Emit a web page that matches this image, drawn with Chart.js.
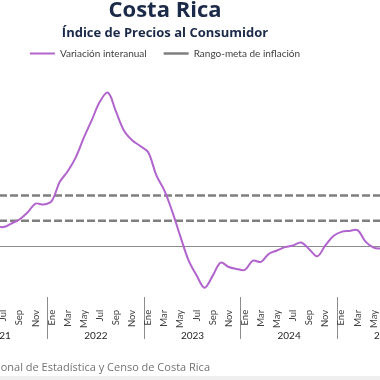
<!DOCTYPE html>
<html lang="es">
<head>
<meta charset="utf-8">
<title>Costa Rica - Índice de Precios al Consumidor</title>
<script src="https://cdn.jsdelivr.net/npm/chart.js@4.4.1/dist/chart.umd.min.js"></script>
<style>
  body { margin: 0; width: 380px; height: 380px; overflow: hidden; position: relative; background: #fff; font-family: Lato, sans-serif; }
  /* the chart is wider than the window: it is shown cropped on both sides */
  #wrap { position: absolute; left: -104px; top: 0; }
  #fuente { position: absolute; top: 360px; right: 170px; white-space: nowrap; font-family: 'Open Sans', sans-serif; font-size: 11px; line-height: 13px; color: #767171; }
  #pie { position: absolute; left: 0; right: 0; top: 376px; height: 4px; background: #efefef; }
</style>
</head>
<body>
<div id="wrap"><canvas id="ipcChart" width="538" height="362"></canvas></div>
<div id="fuente">Fuente: Instituto Nacional de Estadística y Censo de Costa Rica</div>
<div id="pie"></div>
<script>
// Axis labels
const years = ['2021', '2022', '2023', '2024', '2025'];
const monthNames = ['Ene', 'Feb', 'Mar', 'Abr', 'May', 'Jun', 'Jul', 'Ago', 'Sep', 'Oct', 'Nov', 'Dic'];

// Variación interanual del IPC (%), one array per year, Ene..Dic
const ipc2021 = [null, null, null, null, null, 1.6, 1.5, 1.78, 2.1, 2.65, 3.35, 3.28];
const ipc2022 = [3.55, 5.05, 5.9, 7.0, 8.55, 9.95, 11.4, 12.1, 10.6, 9.1, 8.35, 7.9];
const ipc2023 = [7.4, 5.6, 4.4, 2.7, 0.75, -1.1, -2.3, -3.28, -2.35, -1.3, -1.65, -1.8];
const ipc2024 = [-1.88, -1.15, -1.25, -0.6, -0.35, -0.08, 0.05, 0.28, -0.25, -0.8, 0.05, 0.8];
const ipc2025 = [1.12, 1.2, 1.26, 0.35, -0.12, -0.2, null, null, null, null, null, null];

// Rango-meta de inflación (%)
const metaInferior = 2;
const metaSuperior = 4;

const yMin = -4;
const yMax = 14;

const navy = '#1b2a48';
const purple = '#b164cc';
const gray = '#7f7f7f';

const labels = years.flatMap(() => monthNames);
const variacion = [...ipc2021, ...ipc2022, ...ipc2023, ...ipc2024, ...ipc2025];

Chart.defaults.font.family = 'Lato, sans-serif';

new Chart(document.getElementById('ipcChart'), {
  type: 'line',
  data: {
    labels,
    datasets: [
      {
        label: 'Variación interanual',
        data: variacion,
        borderColor: purple,
        borderWidth: 2,
        tension: 0.35,
        pointRadius: 0,
        pointStyle: 'line'
      },
      {
        label: 'Rango-meta de inflación',
        data: labels.map(() => metaInferior),
        borderColor: gray,
        borderWidth: 2.5,
        borderDash: [8, 3],
        pointRadius: 0,
        pointStyle: 'line'
      },
      {
        label: 'Rango-meta superior',
        data: labels.map(() => metaSuperior),
        borderColor: gray,
        borderWidth: 2.5,
        borderDash: [8, 3],
        pointRadius: 0,
        pointStyle: 'line'
      }
    ]
  },
  options: {
    responsive: false,
    animation: false,
    // room for the year row hung below the month labels
    layout: { padding: { bottom: 29 } },
    plugins: {
      title: {
        display: true,
        text: 'Costa Rica',
        color: navy,
        font: { family: 'Open Sans', size: 22, weight: 'bold', lineHeight: 1 },
        padding: { top: 0, bottom: 0 }
      },
      subtitle: {
        display: true,
        text: 'Índice de Precios al Consumidor',
        color: navy,
        font: { family: 'Open Sans', size: 13, weight: 'bold', lineHeight: 1 },
        padding: { top: 5, bottom: -8.4 }
      },
      legend: {
        labels: {
          usePointStyle: true,
          pointStyleWidth: 25,
          padding: 17,
          color: '#404040',
          font: { size: 10 },
          filter: item => item.datasetIndex !== 2
        }
      },
      tooltip: { enabled: false }
    },
    scales: {
      x: {
        type: 'category',
        offset: true,
        weight: 0,
        border: { display: false },
        grid: { display: false },
        ticks: {
          autoSkip: false,
          minRotation: 90,
          maxRotation: 90,
          padding: 5,
          color: '#404040',
          font: { size: 9.5 },
          callback: (value, index) => index % 2 === 0 ? monthNames[index % 12] : ''
        },
        afterFit: scale => { scale.paddingLeft = 0; scale.paddingRight = 0; }
      },
      // year row, hung from the bottom of the plot, with the separators between years
      years: {
        type: 'linear',
        axis: 'x',
        position: { y: yMin },
        min: -0.5,
        max: labels.length - 0.5,
        border: { display: false },
        grid: { drawOnChartArea: false, offset: true, tickLength: 42, color: '#8c8c8c' },
        afterBuildTicks: scale => { scale.ticks = years.map((y, i) => ({ value: i * 12 + 5.5 })); },
        ticks: {
          autoSkip: false,
          maxRotation: 0,
          padding: -9,
          color: '#262626',
          font: { size: 10 },
          callback: (value, index) => years[index]
        },
        afterFit: scale => { scale.paddingLeft = 0; scale.paddingRight = 0; }
      },
      y: {
        min: yMin,
        max: yMax,
        ticks: { display: false, stepSize: 2 },
        border: { display: false },
        grid: {
          drawTicks: false,
          color: ctx => ctx.tick && ctx.tick.value === 0 ? '#8c8c8c' : 'rgba(0,0,0,0)'
        },
        afterFit: scale => { scale.width = 55; }
      }
    }
  }
});
</script>
</body>
</html>
